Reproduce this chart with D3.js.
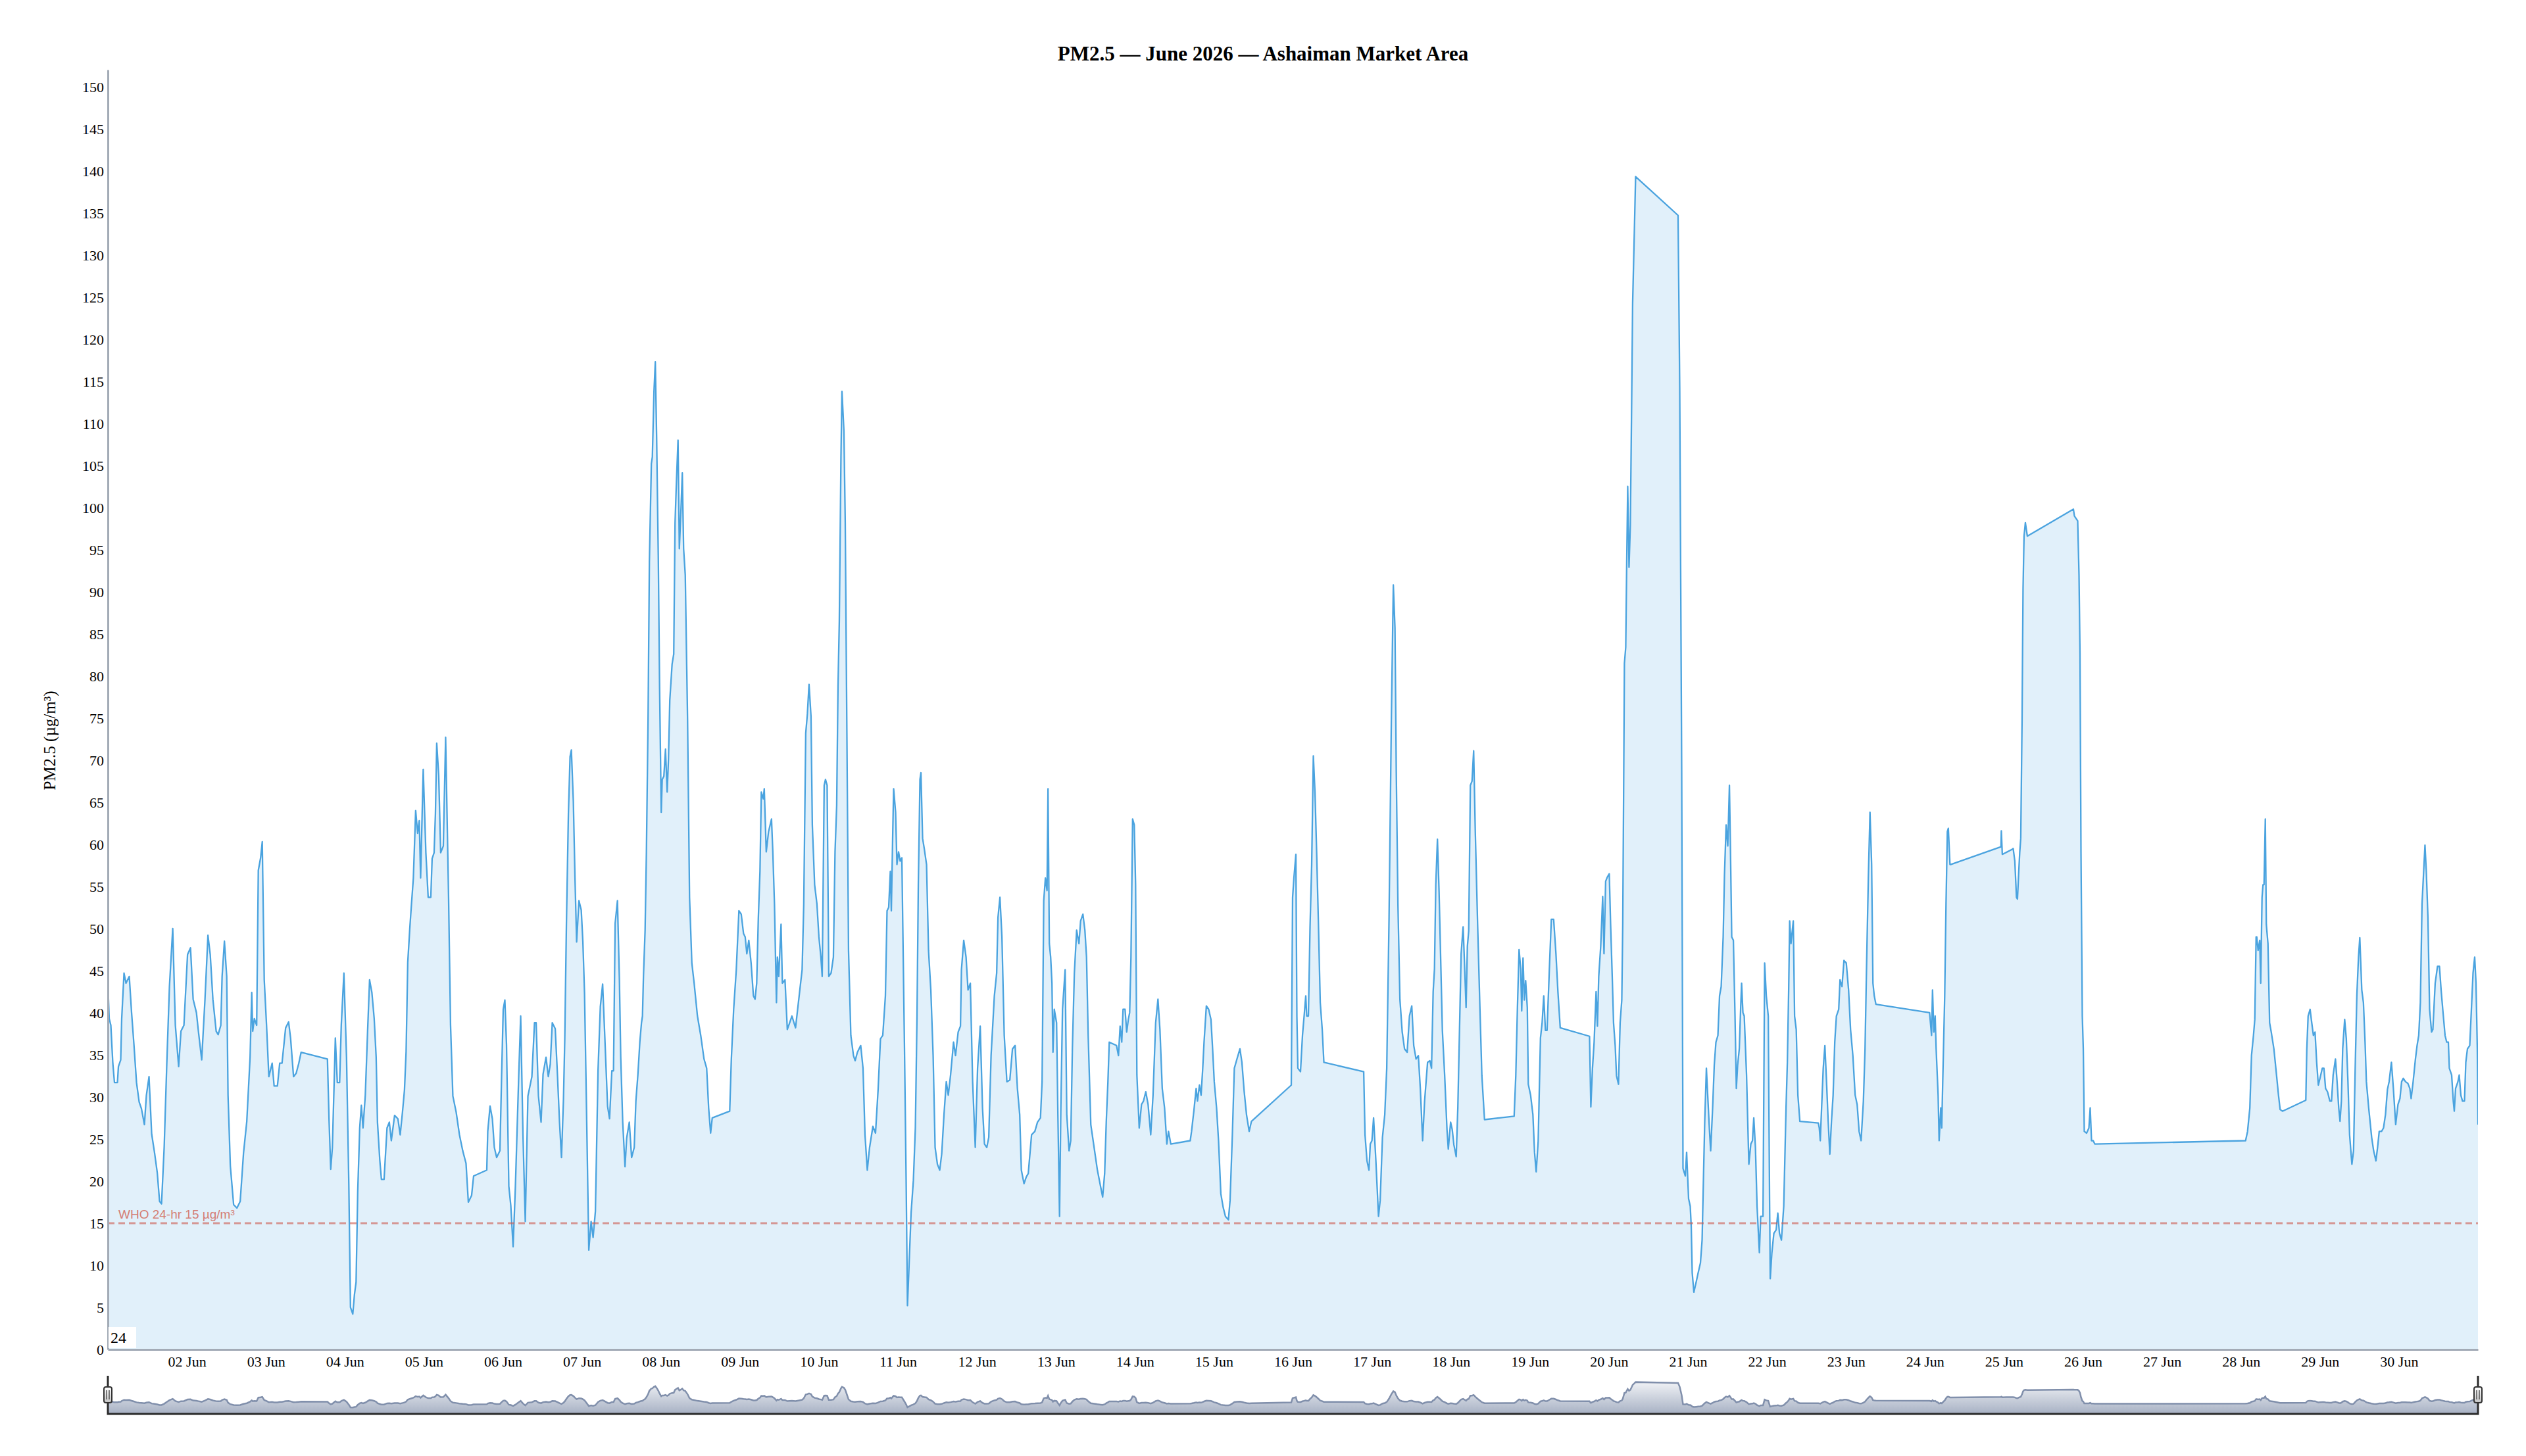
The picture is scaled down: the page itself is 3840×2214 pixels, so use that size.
<!DOCTYPE html>
<html>
<head>
<meta charset="utf-8">
<script src="https://d3js.org/d3.v7.min.js"></script>
<style>
  body { margin: 0; background: #fff; }
  text { font-family: "Liberation Serif", "Times New Roman", serif; fill: #000; }
  .axis path.domain { stroke: #a3abb6; stroke-width: 3px; }
  .axis text { font-family: "Liberation Serif", "Times New Roman", serif; font-size: 22px; fill: #000; }
  .who-label { font-family: "Liberation Sans", Arial, sans-serif; font-size: 19px; fill: #d47d74; }
</style>
</head>
<body>
<svg width="3840" height="2214"></svg>
<script>
// PM2.5 readings, [hours since 01 Jun 00:00, µg/m³]
var jun01_04 = [[0,43.5],[0.4,39.3],[0.9,38.5],[1.5,34],[2,31.7],[2.9,31.7],[3.2,33.6],[3.9,34.4],[4.2,39.3],[4.9,44.7],[5.5,43.5],[6.5,44.3],[7.2,40],[7.9,36.3],[8.7,31.7],[9.5,29.4],[10.2,28.6],[11.1,26.7],[11.7,30.2],[12.5,32.4],[13.3,25.6],[14.2,23.3],[15,21],[15.7,17.6],[16.3,17.3],[17.1,24],[17.9,34],[18.7,43.1],[19.7,50],[20.5,38.5],[21.5,33.6],[22.2,37.8],[23.1,38.5],[24.2,46.9],[25.1,47.7],[25.9,41.6],[26.9,40],[27.5,37.8],[28.5,34.4],[29.5,41.6],[30.4,49.2],[31.1,46.9],[31.9,41.6],[32.9,37.8],[33.5,37.4],[34.3,38.5],[34.7,44.3],[35.4,48.5],[36.1,44.3],[36.5,30.2],[37.2,21.8],[38.2,17.2],[39.2,16.8],[40.2,17.6],[41.2,23.3],[42.2,27.1],[43.2,34.7],[43.7,42.4],[44,37.8],[44.5,39.3],[45.2,38.5],[45.7,56.9],[46.4,58.4],[46.9,60.3],[47.5,43.9],[48.2,38.5],[48.9,32.4],[49.9,34],[50.5,31.3],[51.5,31.3],[52.2,34],[52.9,34],[54,38.2],[54.9,38.9],[55.5,37],[56.4,32.4],[57.2,32.8],[58,34],[58.7,35.3],[66.7,34.5],[67.2,27.1],[67.7,21.4],[68.2,24],[69.1,37],[69.7,31.7],[70.4,31.7],[70.9,38.5],[71.7,44.7],[72.5,34.7],[73.2,19.5],[73.7,5],[74.4,4.2],[74.9,6.5],[75.4,8],[75.9,18.7],[76.5,26.3],[77,29],[77.5,26.3],[78.2,30.2],[78.9,37.8],[79.5,43.9],[80.2,42.4],[80.9,39.3]];

var jun04_07 = [[81.5,34.7],[81.9,27],[82.6,22.5],[83.1,20.2],[83.9,20.2],[84.8,26.3],[85.5,27],[86.1,24.8],[87.1,27.8],[88.1,27.4],[88.8,25.5],[89.5,28.2],[90.1,30.8],[90.6,35.4],[91.1,46],[91.7,49.9],[92.1,52.2],[92.8,56],[93.5,64],[94.1,61.3],[94.6,62.8],[95,56],[95.8,68.9],[96.6,59],[97.3,53.7],[98.1,53.7],[98.5,58.3],[99.1,59],[99.5,63.6],[99.9,72],[100.5,68.2],[101.1,59],[101.9,59.8],[102.6,72.7],[103.5,53.7],[104.1,38.5],[104.8,30.1],[105.8,28.2],[106.8,25.5],[107.8,23.6],[108.8,22.1],[109.5,17.5],[110.5,18.3],[111.1,20.6],[115.1,21.3],[115.4,25.9],[116.1,28.9],[116.8,27.4],[117.4,24],[118.1,22.8],[119.1,23.6],[119.6,32.4],[120.1,40.4],[120.6,41.5],[121.1,36.2],[121.8,19.4],[122.4,17.1],[123.1,12.2],[123.8,19.4],[124.8,32.4],[125.4,39.6],[126.1,25.5],[126.8,15.2],[127.6,30.1],[128.8,32.4],[129.6,38.8],[130.1,38.8],[130.8,30.1],[131.6,27],[132.2,32.7],[133.1,34.7],[133.8,32.4],[134.4,33.9],[135,38.8],[135.9,38.1],[136.6,32.4],[137.2,27],[137.8,22.8],[138.4,29.7],[138.8,36.9],[139.3,50.6],[139.9,63.6],[140.4,70.4],[140.8,71.2],[141.4,65.1],[141.9,56],[142.4,48.4],[143.1,53.3],[143.8,52.2],[144.3,48.4],[144.8,42.3],[145.4,28.6],[146.1,11.8],[146.8,15.2],[147.4,13.3],[148.1,16.4],[148.9,33.1],[149.6,40.7],[150.3,43.4],[150.9,37.7],[151.8,28.9],[152.4,27.4],[153.1,33.1],[153.6,33.1],[154.1,50.6],[154.8,53.3],[155.4,43.8],[155.8,34.7],[156.4,27],[157.1,21.7],[157.6,25.1],[158.4,27],[159.1,22.8]];

var jun07_11 = [[159.9,24],[160.4,29.5],[161,32.6],[161.6,36.5],[162.1,38.8],[162.4,39.6],[162.7,44.3],[163.2,49.8],[163.6,59.1],[164.1,74.8],[164.5,93.5],[165.1,105.2],[165.4,106],[165.9,113.8],[166.3,117.3],[166.7,108.4],[167.2,94.3],[167.6,78.7],[168.1,63.8],[168.4,67.7],[168.9,68.1],[169.4,71.3],[169.9,66.2],[170.3,70.1],[170.7,77.1],[171.4,81.4],[171.9,82.6],[172.3,98.2],[172.7,102.9],[173.2,108],[173.6,95.1],[174.1,99.8],[174.5,104.1],[174.9,95.1],[175.4,92],[176.1,74.8],[176.7,53.7],[177.4,45.9],[178.1,43.5],[179.1,39.6],[180.1,37.3],[181.1,34.5],[181.9,33.4],[182.5,28.7],[183.1,25.7],[183.6,27.5],[188.9,28.3],[189.4,34.5],[190.1,40.4],[190.9,45.1],[191.7,52.1],[192.4,51.7],[193.1,49.4],[193.6,49],[194.1,47],[194.7,48.6],[195.4,45.9],[196.1,42],[196.6,41.6],[197.1,43.5],[197.6,51.3],[198.1,56.8],[198.5,66.2],[199.1,65.4],[199.4,66.6],[200,59.1],[200.7,61.5],[201.6,63],[202,59.1],[202.5,52.9],[203.1,41.2],[203.4,46.6],[203.8,44.3],[204.5,50.5],[204.9,43.5],[205.7,43.9],[206.4,38],[207.1,38.8],[207.8,39.6],[208.9,38.2],[210,42],[210.9,45.1],[211.4,52.9],[212,73.2],[212.5,75.5],[213,79],[213.6,75.2],[214,62.3],[214.7,55.2],[215.4,52.9],[216,49],[216.6,46.6],[217,44.3],[217.6,67],[218,67.7],[218.5,67],[219,44.3],[219.7,44.7],[220.4,46.6],[220.9,59.1],[221.4,64.6],[221.8,78.7],[222.2,86.5],[222.7,106],[223,113.8],[223.6,109.1],[224,98.2],[224.5,73.2],[225,47.4],[225.7,37.3],[226.5,34.9],[227,34.3],[227.7,35.3],[228.7,36.1],[229.4,33.4],[230,25.5],[230.7,21.3],[231.4,24],[232.4,26.5],[233.2,25.7],[234,31],[234.7,36.9],[235.4,37.3],[236.2,42],[236.7,52.1],[237.2,52.5],[237.7,56.8],[238,52.1],[238.4,60.7],[238.7,66.6],[239.3,63.8],[239.7,57.6],[240.2,59.1],[240.7,58],[241.2,58.4]];

var jun11_14 = [[241.5,49.8],[242,35.7],[242.5,20.1],[242.9,5.2],[243.3,9.1],[244,16.2],[244.7,20.1],[245.3,26.3],[245.8,39.6],[246.2,55.2],[246.7,67.7],[247,68.5],[247.5,60.7],[248,59.5],[248.7,57.6],[249.3,47.4],[250,42.7],[250.7,34.9],[251.3,24],[252,22],[252.7,21.3],[253.3,23.2],[254,27.9],[254.7,31.8],[255.3,30.2],[256,32.6],[256.9,36.5],[257.5,34.9],[258.3,37.7],[259,38.4],[259.3,45.1],[260,48.6],[260.7,46.6],[261.3,42.7],[262,43.5],[262.7,31.8],[263.5,24],[264.2,33.4],[265,38.4],[265.7,28.7],[266.3,24.4],[267,24],[267.6,25.2],[268.3,34.9],[269.3,42],[270,44.7],[270.4,51.3],[271,53.7],[271.6,49],[272.3,37.3],[273.1,31.8],[274,32],[274.8,35.7],[275.6,36.1],[276.3,31],[277,27.9],[277.5,21.3],[278.3,19.7],[279,20.5],[279.6,20.9],[280.6,25.5],[281.6,25.9],[282.4,27],[283.3,27.5],[283.8,31.8],[284.3,53.3],[284.8,56],[285.3,54.5],[285.6,66.6],[286,48.2],[286.4,46.6],[286.8,43.5],[287.1,35.3],[287.5,40.4],[288.2,38.8],[288.6,27.9],[289.1,15.8],[289.5,28.7],[290,40.4],[290.8,45.1],[291.3,27.9],[292,23.6],[292.5,24.8],[293,35.7],[293.6,44.7],[294.3,49.8],[295,48.2],[295.5,50.9],[296.2,51.7],[296.8,49.8],[297.3,46.6],[297.8,37.3],[298.6,26.7],[299.6,24],[300.6,21.3],[301.6,19.3],[302.2,18.1],[302.8,20.9],[303.3,27.1],[303.8,31.8],[304.2,36.5],[306.4,36.1],[307,34.9],[307.5,38.4],[308,36.5],[308.4,40.4],[309,40.4],[309.5,37.7],[310,39.2],[310.4,40],[310.8,46.6],[311.3,63],[311.8,62.3],[312.2,55.2],[312.6,32.6],[313.3,26.3],[314,29.1],[314.6,29.5],[315.3,30.6],[316,29.1],[316.8,25.5],[317.5,30.2],[318.3,38.8],[319,41.6],[319.6,38],[320.3,31],[321,28.7]];

var jun14_17 = [[321.7,24.4],[322.2,25.9],[322.9,24.4],[328.8,24.8],[329.2,25.9],[329.9,28.3],[330.6,31],[331,29.5],[331.6,31.4],[332.1,30.2],[332.6,33.4],[333,36.5],[333.7,40.8],[334.4,40.4],[335.1,39.2],[335.6,35.7],[336.1,31.8],[336.8,28.7],[337.4,24.8],[338.1,18.5],[338.8,16.9],[339.5,15.8],[340.4,15.4],[340.9,17.7],[341.6,25.5],[342.2,33.4],[343,34.5],[343.9,35.7],[344.5,34.1],[345.2,30.6],[345.9,27.9],[346.7,25.9],[347.4,27.1],[359.5,31.4],[359.9,53.7],[360.3,56],[360.9,58.8],[361.2,39.6],[361.5,33.4],[362.3,33],[362.9,37.3],[363.4,39.6],[363.9,42],[364.2,39.6],[364.7,39.6],[365.2,50.2],[365.7,57.6],[366.2,70.5],[366.7,66.2],[367.2,59.1],[367.7,51.3],[368.3,41.2],[368.9,38],[369.4,34.1],[381.5,33],[381.9,25.5],[382.5,22.4],[383.1,21.3],[383.5,24.4],[384,24.8],[384.5,27.5],[385.2,22.4],[386,15.8],[386.5,17.7],[387.2,25.2],[387.9,27.9],[388.5,33.4],[389.2,51.3],[389.9,74.8],[390.5,90.8],[391,85.7],[391.4,68.5],[391.9,52.9],[392.5,41.6],[393.2,37.7],[393.9,35.7],[394.7,35.3],[395.4,39.6],[396.1,40.8],[396.7,36.1],[397.4,34.5],[398.1,34.9],[398.7,31],[399.4,24.8],[400,29.5],[400.9,34.1]];

var jun17_21 = [[401.6,34.3],[402.1,33.4],[402.6,42.5],[403,45.2],[403.4,55.2],[403.9,60.6],[404.4,54.3],[404.9,46.1],[405.4,37.9],[406.1,32.5],[406.8,26.1],[407.2,23.8],[407.9,27],[408.4,26.1],[408.9,24.3],[409.6,22.9],[410.1,28.8],[410.6,37.9],[411.1,47],[411.7,50.2],[412.1,46.1],[412.6,40.6],[413,47.9],[413.4,49.7],[413.9,67],[414.4,67.5],[414.9,71.1],[415.4,61.5],[416.1,50.6],[416.8,40.6],[417.4,32.5],[418.2,27.3],[427.2,27.7],[427.7,32.5],[428.2,40.6],[428.7,47.5],[429.2,45.2],[429.5,40.2],[429.9,46.5],[430.3,41.5],[430.7,43.8],[431.2,40.6],[431.5,31.5],[432.2,30.2],[432.9,27.9],[433.4,23.4],[433.9,21.1],[434.5,24.7],[435.2,37],[435.7,38.8],[436.2,42],[436.7,37.9],[437.2,37.9],[437.9,45.2],[438.5,51.1],[439.2,51.1],[439.9,47],[440.5,42.5],[441.2,38.2],[450.1,37.2],[450.5,28.8],[451,33.4],[451.5,36.5],[452.1,42.5],[452.5,38.4],[452.9,44.3],[453.5,47.9],[454.1,53.8],[454.5,47],[455,55.6],[455.5,56.1],[456.1,56.5],[456.5,50.6],[457,44.3],[457.4,38.8],[457.9,36.1],[458.3,32.5],[458.9,31.5],[459.4,38.8],[459.9,41.5],[460.2,50.6],[460.5,68.8],[460.7,81.5],[461.1,83.4],[461.4,93.4],[461.7,102.5],[462.1,92.9],[462.5,97.9],[462.9,112.5],[463.2,124.3],[463.7,132.5],[464.1,139.3],[477,134.7],[477.5,114.3],[478.1,68.8],[478.5,21.5],[479.2,20.6],[479.6,23.4],[480.2,17.9],[480.7,17],[481,14.6]];

var jun21_24 = [[481.3,9.1],[481.8,6.8],[482.5,8],[483.1,9.1],[483.8,10.3],[484.3,13],[484.7,20.1],[485.1,27.1],[485.6,33.4],[486,30.2],[486.5,26.3],[486.9,23.6],[487.5,28.7],[488,33.8],[488.5,36.5],[489.1,37.3],[489.6,42],[490.1,43.1],[490.7,49],[491.1,56.4],[491.6,62.3],[492.1,59.8],[492.6,67],[492.9,59.8],[493.3,49],[493.8,48.6],[494.3,39.6],[494.7,31],[495.1,33.8],[495.6,35.7],[496,40.4],[496.3,43.5],[496.7,40],[497.1,39.6],[497.8,32.6],[498.5,22],[499.1,24.4],[499.6,24.8],[500,27.5],[500.5,24],[501,17],[501.7,11.5],[502.1,15.8],[502.8,15.8],[503.3,45.9],[503.8,42],[504.4,39.6],[504.8,17.7],[505,8.4],[505.5,11.5],[506.1,13.8],[506.8,14.2],[507.3,16.2],[507.8,13.8],[508.4,13],[509.1,17],[509.8,28.7],[510.2,34.1],[510.6,42.7],[510.9,50.9],[511.3,48.2],[512,50.9],[512.4,39.6],[512.9,38],[513.4,30.2],[514,27.1],[519.6,26.9],[519.9,26.3],[520.2,24.8],[520.6,28.7],[521.1,33.4],[521.6,36.1],[522.1,31.8],[522.6,27.1],[523.1,23.2],[523.6,27.1],[524.1,30.2],[524.6,36.5],[525.1,39.6],[525.8,40.4],[526.2,43.9],[526.8,43.1],[527.4,46.2],[528.1,45.9],[528.8,42.7],[529.4,38],[530.1,34.9],[530.8,30.2],[531.4,29.1],[532,25.9],[532.6,24.8],[533.3,29.5],[533.8,35.7],[534.2,44.3],[534.8,56],[535.3,63.8],[535.8,57.6],[536.2,43.5],[536.6,42],[537.1,41],[553.4,40],[554,37.3],[554.3,42.7],[554.7,37.7],[555.1,39.6],[555.4,35.7],[556,30.2],[556.3,24.8],[556.8,28.7],[557.1,26.3],[557.4,31.8],[558,42],[558.4,52.9],[558.8,61.5],[559.1,61.9],[559.6,57.6],[559.8,57.6]];

var jun24_27 = [[575.1,59.7],[575.2,61.6],[575.5,58.8],[578.5,59.4],[578.8,59.5],[579.3,58],[579.8,53.7],[580.1,53.5],[580.5,56.8],[580.8,59.1],[581.1,60.7],[581.5,74.8],[581.8,90.4],[582.1,96.6],[582.5,98.2],[583.1,96.6],[597.1,99.8],[597.4,99],[598.4,98.4],[598.8,92],[599.1,82.6],[599.4,59.1],[599.8,39.6],[600.1,35.7],[600.4,25.9],[601.1,25.7],[601.8,26.3],[602.2,28.7],[602.6,24.8],[603.1,24.8],[603.6,24.4]];

var jun28_30 = [[649.4,24.8],[650,25.9],[650.7,28.7],[651.2,34.9],[651.8,37.3],[652.2,39.2],[652.6,49],[652.8,49],[653.2,47.4],[653.7,48.6],[654,43.5],[654.4,53.7],[654.7,55.2],[655,55.2],[655.4,63],[655.7,50.5],[656.2,48.2],[656.7,38.8],[657.2,37.7],[658,35.7],[658.7,33],[659.4,30.2],[659.9,28.5],[660.6,28.3],[667.7,29.6],[668,35.7],[668.4,39.6],[669,40.4],[669.5,38.8],[670,37.3],[670.5,37.7],[671,34.1],[671.5,31.4],[672,32.2],[672.7,33.4],[673.2,33.4],[673.7,31],[674.3,30.6],[675,29.5],[675.5,29.5],[676,32.6],[676.7,34.5],[677.2,31.8],[677.7,28.7],[678.1,27.1],[678.5,29.5],[678.9,35.7],[679.5,39.2],[680,36.9],[680.5,31.8],[681,25.5],[681.7,22],[682.2,23.6],[682.7,33.4],[683.2,42],[683.7,46.6],[684.1,48.9],[684.7,42.7],[685.2,41.2],[685.7,36.5],[686.1,31.8],[686.8,28.7],[687.7,25.2],[688.3,23.6],[689,22.4],[689.5,24],[690,25.9],[690.7,25.9],[691.3,26.3],[691.9,27.9],[692.5,30.9],[693,31.8],[693.7,34.1],[694.3,31],[695,26.7],[695.7,29.1],[696.3,29.8],[696.8,31.8],[697.3,32.2],[698,31.8],[698.7,31.6],[699.3,31],[699.7,29.8],[700.3,31.8],[701,34.5],[701.5,36.1],[702,37.3],[702.5,41.2],[703,52.9],[703.5,56.8],[703.9,59.9],[704.3,56.8],[704.8,51.3],[705.3,40.4],[705.9,37.7],[706.3,38],[707,43.5],[707.7,45.5],[708.3,45.5],[708.8,42.7],[709.3,40.4],[710,37.3],[710.5,36.5],[711,36.5],[711.3,33.4],[712,32.6],[712.5,29.5],[712.8,28.3],[713.2,31],[713.9,31.8],[714.3,32.6],[714.8,30.2],[715.3,29.5],[715.9,29.5],[716.3,34.1],[716.8,35.7],[717.5,36.1],[718,40.4],[718.5,44.7],[719,46.6],[719.4,43.5],[719.8,35.7],[720,26.7]];

var yTicks = d3.range(0, 151, 5);
var dayTicks = d3.range(1, 30);          // 02 Jun .. 30 Jun (days after 01 Jun)
var whoLimit = 15;
var rollPeriod = 24;

var start = Date.UTC(2026, 5, 1);
function toDate(h) { return new Date(start + h * 3600e3); }

var series = [].concat(jun01_04, jun04_07, jun07_11, jun11_14, jun14_17,
                       jun17_21, jun21_24, jun24_27, jun28_30)
  .map(function(d) { return { t: toDate(d[0]), v: d[1] }; });

var svg = d3.select("svg");

// Plot box
var plotLeft = 164, plotRight = 3767, plotTop = 106, plotBottom = 2052;

var x = d3.scaleUtc().domain([toDate(0), toDate(720)]).range([plotLeft, plotRight]);
var y = d3.scaleLinear().domain([0, 152]).range([plotBottom, plotTop]);

svg.append("clipPath").attr("id", "plotclip")
  .append("rect").attr("x", plotLeft).attr("y", plotTop)
  .attr("width", plotRight - plotLeft).attr("height", plotBottom - plotTop);

var plot = svg.append("g").attr("clip-path", "url(#plotclip)");

plot.append("path")
  .datum(series)
  .attr("fill", "rgba(52,152,219,0.15)")
  .attr("d", d3.area().x(function(d) { return x(d.t); }).y0(y(0)).y1(function(d) { return y(d.v); }));

plot.append("path")
  .datum(series)
  .attr("fill", "none")
  .attr("stroke", "#4aa3df")
  .attr("stroke-width", 2.3)
  .attr("stroke-linejoin", "round")
  .attr("d", d3.line().x(function(d) { return x(d.t); }).y(function(d) { return y(d.v); }));

// WHO guideline
svg.append("line")
  .attr("x1", plotLeft).attr("x2", plotRight)
  .attr("y1", y(whoLimit)).attr("y2", y(whoLimit))
  .attr("stroke", "rgba(205,92,80,0.6)")
  .attr("stroke-width", 3)
  .attr("stroke-dasharray", "10,6");

svg.append("text")
  .attr("class", "who-label")
  .attr("x", plotLeft + 16).attr("y", y(whoLimit) - 7)
  .text("WHO 24-hr 15 µg/m³");

// Axes
svg.append("g")
  .attr("class", "axis")
  .attr("transform", "translate(" + plotLeft + ",0)")
  .call(d3.axisLeft(y).tickValues(yTicks).tickFormat(d3.format("d")).tickSize(0).tickSizeOuter(0).tickPadding(6))
  .selectAll("text").attr("dy", "0.34em");

svg.append("g")
  .attr("class", "axis")
  .attr("transform", "translate(0," + plotBottom + ")")
  .call(d3.axisBottom(x)
    .tickValues(dayTicks.map(function(d) { return toDate(d * 24); }))
    .tickFormat(d3.utcFormat("%d %b"))
    .tickSize(0).tickSizeOuter(0).tickPadding(10));

// Title and y label
svg.append("text")
  .attr("x", 1920).attr("y", 92)
  .attr("text-anchor", "middle")
  .attr("font-size", 31).attr("font-weight", "bold")
  .text("PM2.5 — June 2026 — Ashaiman Market Area");

svg.append("text")
  .attr("transform", "translate(84,1126) rotate(-90)")
  .attr("text-anchor", "middle")
  .attr("font-size", 25)
  .text("PM2.5 (µg/m³)");

// Roll period box
svg.append("rect")
  .attr("x", plotLeft + 1).attr("y", plotBottom - 34)
  .attr("width", 42).attr("height", 32)
  .attr("fill", "#fff");
svg.append("text")
  .attr("x", plotLeft + 4).attr("y", plotBottom - 10)
  .attr("font-size", 24)
  .text(rollPeriod);

// Range selector
var selTop = 2092, selBottom = 2150;
var miniY = d3.scaleLinear().domain([-30, 173]).range([selBottom, selTop]);

var defs = svg.append("defs");
var grad = defs.append("linearGradient").attr("id", "minifill")
  .attr("gradientUnits", "userSpaceOnUse")
  .attr("x1", 0).attr("x2", 0).attr("y1", selTop).attr("y2", selBottom);
grad.append("stop").attr("offset", "0").attr("stop-color", "#ffffff");
grad.append("stop").attr("offset", "1").attr("stop-color", "#a7b1c4");

var hgrad = defs.append("linearGradient").attr("id", "handlefill")
  .attr("x1", 0).attr("x2", 0).attr("y1", 0).attr("y2", 1);
hgrad.append("stop").attr("offset", "0").attr("stop-color", "#ffffff");
hgrad.append("stop").attr("offset", "1").attr("stop-color", "#c4c4c4");

svg.append("path")
  .datum(series)
  .attr("fill", "url(#minifill)")
  .attr("d", d3.area().x(function(d) { return x(d.t); }).y0(selBottom).y1(function(d) { return miniY(d.v); }));

svg.append("path")
  .datum(series)
  .attr("fill", "none")
  .attr("stroke", "#808fab")
  .attr("stroke-width", 2.5)
  .attr("d", d3.line().x(function(d) { return x(d.t); }).y(function(d) { return miniY(d.v); }));

svg.append("path")
  .attr("fill", "none")
  .attr("stroke", "#2a2a2a")
  .attr("stroke-width", 3)
  .attr("d", "M" + plotLeft + "," + selTop + "V" + selBottom + "H" + plotRight + "V" + selTop);

[plotLeft, plotRight].forEach(function(hx) {
  var g = svg.append("g").attr("transform", "translate(" + hx + "," + 2121 + ")");
  g.append("rect")
    .attr("x", -6).attr("y", -12).attr("width", 12).attr("height", 24).attr("rx", 3)
    .attr("fill", "url(#handlefill)").attr("stroke", "#333").attr("stroke-width", 2);
  [-2, 2].forEach(function(dx) {
    g.append("line").attr("x1", dx).attr("x2", dx).attr("y1", -7).attr("y2", 7)
      .attr("stroke", "#555").attr("stroke-width", 1.5);
  });
});
</script>
</body>
</html>
